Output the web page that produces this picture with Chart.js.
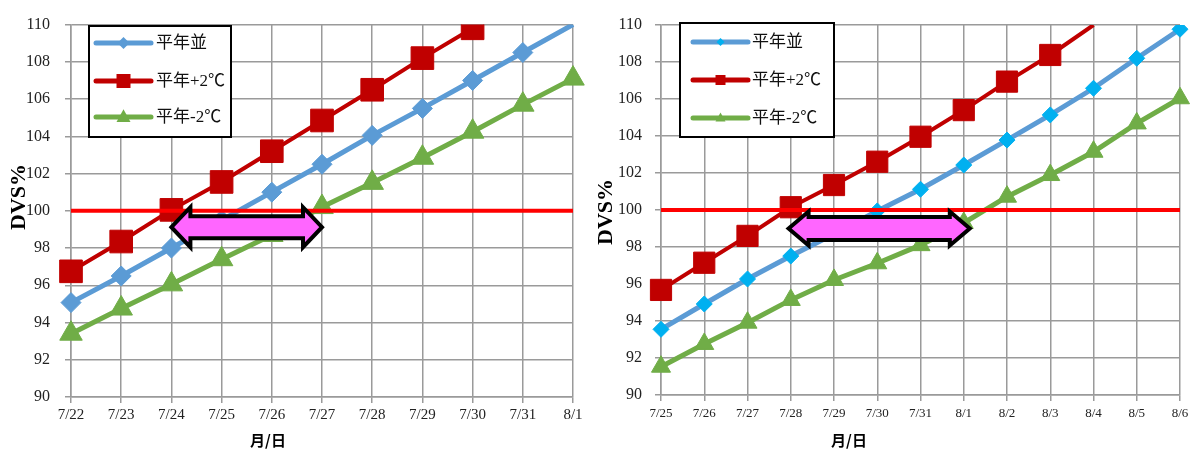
<!DOCTYPE html>
<html lang="ja">
<head>
<meta charset="UTF-8">
<title>DVS%</title>
<script src="https://cdn.jsdelivr.net/npm/chart.js@4.4.1/dist/chart.umd.min.js"></script>
<style>
  body { margin: 0; background: #fff; }
  canvas { position: absolute; top: 0; }
  #leftChart { left: 0; }
  #rightChart { left: 590px; }
</style>
</head>
<body>
<canvas id="leftChart" width="590" height="452"></canvas>
<canvas id="rightChart" width="606" height="452"></canvas>

<script>
// series names
const seriesNames = ['平年並', '平年+2℃', '平年-2℃'];

// left chart (7/22 - 8/1)
const daysLeft = ['7/22', '7/23', '7/24', '7/25', '7/26', '7/27', '7/28', '7/29', '7/30', '7/31', '8/1'];
const normalLeft = [95.07, 96.5, 98.0, 99.5, 101.0, 102.5, 104.05, 105.5, 107.0, 108.5, 110.0];
const warmLeft   = [96.75, 98.35, 100.05, 101.55, 103.2, 104.85, 106.5, 108.2, 109.8, null, null];
const coolLeft   = [93.4, 94.75, 96.05, 97.4, 98.7, 100.2, 101.5, 102.85, 104.25, 105.7, 107.1];
const lineLeft   = [100, 100, 100, 100, 100, 100, 100, 100, 100, 100, 100];
const arrowLeft  = [2.0, 5.0, 99.12]; // from index, to index, value

// right chart (7/25 - 8/6)
const daysRight = ['7/25', '7/26', '7/27', '7/28', '7/29', '7/30', '7/31', '8/1', '8/2', '8/3', '8/4', '8/5', '8/6'];
const normalRight = [93.55, 94.92, 96.27, 97.51, 98.7, 99.95, 101.12, 102.43, 103.78, 105.14, 106.58, 108.2, 109.77];
const warmRight   = [95.68, 97.15, 98.6, 100.15, 101.35, 102.61, 103.96, 105.4, 106.94, 108.38, 110.0, null, null];
const coolRight   = [91.53, 92.76, 93.91, 95.14, 96.22, 97.12, 98.1, 99.3, 100.72, 101.89, 103.15, 104.68, 106.04];
const lineRight   = [100, 100, 100, 100, 100, 100, 100, 100, 100, 100, 100, 100, 100];
const arrowRight  = [2.95, 7.14, 99.0];

const yTicks = [90, 92, 94, 96, 98, 100, 102, 104, 106, 108, 110];

const BLUE = '#5B9BD5', RED = '#C00000', GREEN = '#70AD47';
const GRID = '#9a9a9a';
const SERIF = "'Liberation Serif', 'Noto Sans CJK JP', serif";

function marker(ctx, style, x, y, r, color) {
  ctx.fillStyle = color;
  ctx.beginPath();
  if (style == 'rectRot') {
    ctx.moveTo(x - r, y); ctx.lineTo(x, y - r); ctx.lineTo(x + r, y); ctx.lineTo(x, y + r);
  } else if (style == 'rect') {
    ctx.rect(x - r, y - r, 2 * r, 2 * r);
  } else {
    ctx.moveTo(x, y - r * 1.1); ctx.lineTo(x + r, y + r * 0.7); ctx.lineTo(x - r, y + r * 0.7);
  }
  ctx.closePath();
  ctx.fill();
}

// legend, axis titles and the pink double arrow
const decoPlugin = {
  id: 'deco',
  afterDatasetsDraw(chart, args, o) {
    const ctx = chart.ctx;
    const xs = chart.scales.x, ys = chart.scales.y;
    ctx.save();

    // arrow
    const x1 = xs.getPixelForValue(o.arrow[0]);
    const x2 = xs.getPixelForValue(o.arrow[1]);
    const yc = ys.getPixelForValue(o.arrow[2]);
    const hh = o.arrowH / 2, sh = o.arrowS / 2, L = o.arrowL;
    ctx.beginPath();
    ctx.moveTo(x1, yc);
    ctx.lineTo(x1 + L, yc - hh);
    ctx.lineTo(x1 + L, yc - sh);
    ctx.lineTo(x2 - L, yc - sh);
    ctx.lineTo(x2 - L, yc - hh);
    ctx.lineTo(x2, yc);
    ctx.lineTo(x2 - L, yc + hh);
    ctx.lineTo(x2 - L, yc + sh);
    ctx.lineTo(x1 + L, yc + sh);
    ctx.lineTo(x1 + L, yc + hh);
    ctx.closePath();
    ctx.fillStyle = '#FF66FF';
    ctx.fill();
    ctx.lineWidth = 4;
    ctx.lineJoin = 'miter';
    ctx.strokeStyle = '#000';
    ctx.stroke();

    // legend box
    const b = o.box;
    ctx.fillStyle = '#fff';
    ctx.fillRect(b[0], b[1], b[2], b[3]);
    ctx.lineWidth = 2;
    ctx.strokeStyle = '#000';
    ctx.strokeRect(b[0], b[1], b[2], b[3]);
    const ds = chart.data.datasets;
    ctx.font = '17px ' + SERIF;
    ctx.textBaseline = 'middle';
    for (let i = 0; i < 3; i++) {
      const y = o.rows[i];
      ctx.strokeStyle = ds[i].borderColor;
      ctx.lineWidth = 5;
      ctx.lineCap = 'round';
      ctx.beginPath();
      ctx.moveTo(o.sample[0], y);
      ctx.lineTo(o.sample[1], y);
      ctx.stroke();
      marker(ctx, ds[i].pointStyle, (o.sample[0] + o.sample[1]) / 2, y, o.mk[i], ds[i].pointBackgroundColor);
      ctx.fillStyle = '#111';
      ctx.textAlign = 'left';
      ctx.fillText(ds[i].label, o.textX, y + 1);
    }

    // y title
    ctx.save();
    ctx.translate(o.yTitle[0], o.yTitle[1]);
    ctx.rotate(-Math.PI / 2);
    ctx.font = 'bold 22px ' + SERIF;
    ctx.fillStyle = '#000';
    ctx.textAlign = 'center';
    ctx.textBaseline = 'middle';
    ctx.fillText('DVS%', 0, 0);
    ctx.restore();

    // x title
    ctx.font = 'bold 15px "Noto Sans CJK JP"';
    ctx.fillStyle = '#000';
    ctx.textAlign = 'center';
    ctx.textBaseline = 'middle';
    ctx.fillText('月/日', o.xTitle[0], o.xTitle[1]);
    ctx.restore();
  }
};

function hideAbove(r) {
  return c => (c.raw >= 110 ? 0 : r);
}

function build(id, labels, normal, warm, cool, line100, s) {
  return new Chart(document.getElementById(id), {
    type: 'line',
    data: {
      labels: labels,
      datasets: [
        { label: seriesNames[0], data: normal, borderColor: BLUE, borderWidth: 5,
          pointStyle: 'rectRot', pointRadius: hideAbove(s.diamond),
          pointBackgroundColor: s.diamondFill, pointBorderColor: s.diamondFill, pointBorderWidth: 1, order: 3 },
        { label: seriesNames[1], data: warm, borderColor: RED, borderWidth: 4,
          pointStyle: 'rect', pointRadius: hideAbove(s.square),
          pointBackgroundColor: RED, pointBorderColor: RED, pointBorderWidth: 1, order: 2 },
        { label: seriesNames[2], data: cool, borderColor: GREEN, borderWidth: 5,
          pointStyle: 'triangle', pointRadius: hideAbove(s.tri),
          pointBackgroundColor: GREEN, pointBorderColor: GREEN, pointBorderWidth: 1, order: 1 },
        { label: '100', data: line100, borderColor: '#FF0000', borderWidth: 4, pointRadius: 0, order: 0 }
      ]
    },
    options: {
      responsive: false,
      animation: false,
      layout: { padding: { top: s.top, right: s.right, left: 0, bottom: 0 } },
      plugins: {
        legend: { display: false },
        tooltip: { enabled: false },
        deco: s.deco
      },
      scales: {
        x: {
          offset: false,
          grid: { color: GRID, lineWidth: 1.5, tickLength: 6, offset: false },
          border: { color: GRID, width: 1.5 },
          ticks: { font: { family: SERIF, size: s.xFont }, color: '#222', padding: s.xPad, maxRotation: 0, autoSkip: false },
          afterFit: sc => { sc.height = s.xHeight; }
        },
        y: {
          min: 90, max: 110,
          afterBuildTicks: sc => { sc.ticks = yTicks.map(v => ({ value: v })); },
          grid: { color: GRID, lineWidth: 1.5, tickLength: 6 },
          border: { color: GRID, width: 1.5 },
          ticks: { font: { family: SERIF, size: 16 }, color: '#222', padding: s.yPad },
          afterFit: sc => { sc.width = s.yWidth; }
        }
      }
    },
    plugins: [decoPlugin]
  });
}

build('leftChart', daysLeft, normalLeft, warmLeft, coolLeft, lineLeft, {
  diamond: 10, diamondFill: BLUE, square: 16, tri: 13,
  top: 19, right: 17, xHeight: 55, yWidth: 71, xFont: 15, xPad: 3, yPad: 15,
  deco: {
    arrow: arrowLeft, arrowH: 40, arrowS: 22, arrowL: 19,
    box: [89, 26, 142, 111], rows: [43, 81, 117], sample: [96, 151], textX: 156, mk: [6, 7, 7],
    yTitle: [19, 197], xTitle: [268, 440]
  }
});

build('rightChart', daysRight, normalRight, warmRight, coolRight, lineRight, {
  diamond: 8, diamondFill: '#00B0F0', square: 15, tri: 11,
  top: 25, right: 16, xHeight: 57, yWidth: 71, xFont: 13, xPad: 5, yPad: 13,
  deco: {
    arrow: arrowRight, arrowH: 34, arrowS: 23, arrowL: 20,
    box: [90, 23, 154, 114], rows: [42, 80, 118], sample: [103, 158], textX: 162, mk: [4, 5, 5],
    yTitle: [16, 212], xTitle: [259, 440]
  }
});
</script>
</body>
</html>
